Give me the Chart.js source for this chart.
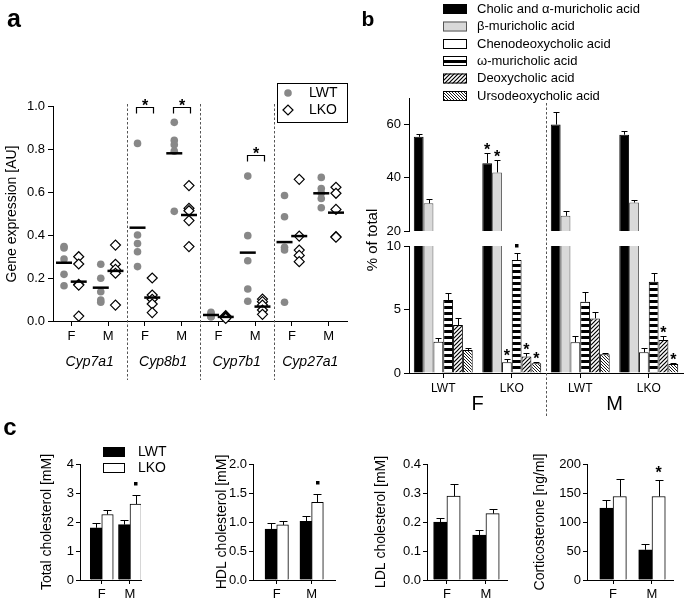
<!DOCTYPE html>
<html><head><meta charset="utf-8">
<script src="https://cdn.jsdelivr.net/npm/chart.js@4.4.1/dist/chart.umd.min.js"></script>
<style>
html,body{margin:0;padding:0;background:#fff;}
body{width:687px;height:605px;position:relative;overflow:hidden;}
canvas{position:absolute;}
</style></head><body>
<script>
// ================= DATA =================
// Panel a: gene expression [AU]
const geneNames = ['Cyp7a1', 'Cyp8b1', 'Cyp7b1', 'Cyp27a1'];
const sexLabels = ['F', 'M', 'F', 'M', 'F', 'M', 'F', 'M'];
const gtLabels = ['LWT', 'LKO'];
const lwtPoints = [
  [0.346, 0.34, 0.288, 0.217, 0.164],
  [0.264, 0.199, 0.136, 0.098, 0.087],
  [0.826, 0.4, 0.36, 0.322, 0.253],
  [0.924, 0.84, 0.82, 0.79, 0.51],
  [0.04, 0.035, 0.025, 0.02, 0.02],
  [0.674, 0.397, 0.28, 0.149, 0.092],
  [0.584, 0.485, 0.343, 0.33, 0.087],
  [0.668, 0.616, 0.595, 0.57, 0.527]
];
const lkoPoints = [
  [0.299, 0.265, 0.17, 0.167, 0.023],
  [0.353, 0.264, 0.24, 0.222, 0.074],
  [0.2, 0.121, 0.101, 0.079, 0.039],
  [0.63, 0.524, 0.513, 0.467, 0.346],
  [0.025, 0.02, 0.018, 0.015, 0.012],
  [0.102, 0.09, 0.074, 0.051, 0.031],
  [0.659, 0.395, 0.33, 0.305, 0.276],
  [0.622, 0.594, 0.519, 0.392, 0.39]
];
const lwtMeans = [0.271, 0.155, 0.434, 0.78, 0.028, 0.318, 0.367, 0.594];
const lkoMeans = [0.183, 0.233, 0.109, 0.493, 0.019, 0.067, 0.395, 0.504];
const sigGroups = [2, 3, 5];
const sigLevels = [0.997, 0.994, 0.772];
const aTicks = [0, 0.2, 0.4, 0.6, 0.8, 1.0];

// Panel b: bile acids, % of total; groups F-LWT, F-LKO, M-LWT, M-LKO
const acidNames = ['Cholic and \u03b1-muricholic acid', '\u03b2-muricholic acid', 'Chenodeoxycholic acid',
  '\u03c9-muricholic acid', 'Deoxycholic acid', 'Ursodeoxycholic acid'];
const groupLabels = ['LWT', 'LKO', 'LWT', 'LKO'];
const sexGroups = ['F', 'M'];
const cholicMean = [55.4, 45.5, 60.0, 56.2];
const cholicErr  = [1.2, 4.0, 4.9, 1.3];
const betaMean   = [30.4, 42.0, 25.7, 30.7];
const betaErr    = [1.6, 4.8, 1.8, 1.0];
const chenoMean  = [2.46, 0.84, 2.42, 1.63];
const chenoErr   = [0.27, 0.26, 0.52, 0.31];
const omegaMean  = [5.75, 8.9, 5.61, 7.19];
const omegaErr   = [0.52, 0.52, 0.79, 0.66];
const deoxyMean  = [3.78, 1.29, 4.3, 2.6];
const deoxyErr   = [0.52, 0.31, 0.53, 0.34];
const ursoMean   = [1.81, 0.76, 1.47, 0.71];
const ursoErr    = [0.13, 0.13, 0.08, 0.05];
const cholicSig = ['', '*', '', ''];
const betaSig   = ['', '*', '', ''];
const chenoSig  = ['', '*', '', ''];
const omegaSig  = ['', '.', '', ''];
const deoxySig  = ['', '*', '', '*'];
const ursoSig   = ['', '*', '', '*'];
const bUpperTicks = [20, 40, 60];
const bLowerTicks = [0, 5, 10];

// Panel c
const cGroups = ['F', 'M'];
const totLWT = [1.8, 1.91],  totLWTErr = [0.16, 0.15];
const totLKO = [2.26, 2.62], totLKOErr = [0.17, 0.3];
const hdlLWT = [0.88, 1.01], hdlLWTErr = [0.1, 0.1];
const hdlLKO = [0.95, 1.34], hdlLKOErr = [0.07, 0.15];
const ldlLWT = [0.2, 0.155], ldlLWTErr = [0.014, 0.016];
const ldlLKO = [0.289, 0.229], ldlLKOErr = [0.043, 0.016];
const corLWT = [124, 52],   corLWTErr = [14.5, 9.5];
const corLKO = [144, 144],  corLKOErr = [30.7, 27.7];
const totSigLKO = ['', '.'];
const hdlSigLKO = ['', '.'];
const ldlSigLKO = ['', ''];
const corSigLKO = ['', '*'];
const totTicks = [0, 1, 2, 3, 4];
const hdlTicks = [0, 0.5, 1.0, 1.5, 2.0];
const ldlTicks = [0, 0.1, 0.2, 0.3, 0.4];
const corTicks = [0, 50, 100, 150, 200];

// ================= SETUP =================
const FONT = '"Liberation Sans", Arial, Helvetica, sans-serif';
Chart.defaults.font.family = FONT;
Chart.defaults.color = '#000';
Chart.defaults.animation = false;
Chart.defaults.events = [];
Chart.defaults.plugins.legend.display = false;
Chart.defaults.plugins.tooltip.enabled = false;

function mkCanvas(r) {
  const c = document.createElement('canvas');
  c.width = r.w; c.height = r.h;
  c.style.left = r.x + 'px'; c.style.top = r.y + 'px';
  c.style.width = r.w + 'px'; c.style.height = r.h + 'px';
  document.body.appendChild(c);
  return c;
}
const YW = 30;
function frame(r, a, xh) {
  return { padding: { left: a.l - r.x - YW, top: a.t - r.y, right: r.x + r.w - a.r, bottom: r.y + r.h - a.b - xh } };
}
function axisY(min, max, ticks, fmt, size, tl = 5, pad = 3) {
  return {
    type: 'linear', position: 'left', min, max, beginAtZero: false,
    afterBuildTicks: s => { s.ticks = ticks.map(v => ({ value: v })); },
    afterFit: s => { s.width = YW; },
    ticks: { callback: v => fmt(v), font: { size }, color: '#000', padding: pad, autoSkip: false },
    grid: { drawOnChartArea: false, drawTicks: true, tickLength: tl, color: '#000', lineWidth: 1 },
    border: { display: true, color: '#000', width: 1 }
  };
}
function axisXlin(min, max, positions, labels, xh, size, tl = 5) {
  return {
    type: 'linear', min, max, offset: false,
    afterBuildTicks: s => { s.ticks = positions.map(v => ({ value: v })); },
    afterFit: s => { s.height = xh; },
    ticks: { callback: (v, i) => labels[i], font: { size }, color: '#000', padding: 3, autoSkip: false, maxRotation: 0 },
    grid: { offset: false, drawOnChartArea: false, drawTicks: true, tickLength: tl, color: '#000', lineWidth: 1 },
    border: { display: true, color: '#000', width: 1 }
  };
}
function text(ctx, s, x, y, font, align = 'center', base = 'middle', rot = 0) {
  ctx.save(); ctx.translate(x, y); ctx.rotate(rot);
  ctx.font = font; ctx.fillStyle = '#000'; ctx.textAlign = align; ctx.textBaseline = base;
  ctx.fillText(s, 0, 0); ctx.restore();
}
function marker(ctx, s, x, yc) {
  if (s === '*') text(ctx, '*', x, yc + 9, 'bold 16px ' + FONT, 'center', 'alphabetic');
  else if (s === '.') { ctx.fillStyle = '#000'; ctx.fillRect(Math.round(x - 1.75), Math.round(yc - 1.75), 3.5, 3.5); }
}
function decor(id, fn) {
  return { id, afterDraw(chart) { const ctx = chart.ctx; ctx.save(); fn(chart, ctx); ctx.restore(); } };
}
// error bars (upward) + significance markers
function errPlugin(cap, gap) {
  return {
    id: 'errbars',
    afterDatasetsDraw(chart) {
      const ctx = chart.ctx, ys = chart.scales.y, area = chart.chartArea;
      ctx.save();
      chart.data.datasets.forEach((ds, i) => {
        if (!ds.errors) return;
        const meta = chart.getDatasetMeta(i);
        meta.data.forEach((el, j) => {
          const d = ds.data[j];
          if (d == null) return;
          const v = ds.values[j], e = ds.errors[j];
          const top = ys.getPixelForValue(v);
          if (top < area.top - 0.5) return;
          const yE = Math.round(ys.getPixelForValue(v + e)) + 0.5;
          const x = Math.round(el.x) + 0.5;
          ctx.strokeStyle = '#000'; ctx.lineWidth = 1;
          ctx.beginPath(); ctx.moveTo(x, top); ctx.lineTo(x, yE);
          ctx.moveTo(x - cap, yE); ctx.lineTo(x + cap, yE); ctx.stroke();
          if (ds.sig && ds.sig[j]) marker(ctx, ds.sig[j], el.x, yE - gap);
        });
      });
      ctx.restore();
    }
  };
}
function makePattern(size, draw) {
  const pc = document.createElement('canvas'); pc.width = size; pc.height = size;
  const g = pc.getContext('2d'); g.fillStyle = '#fff'; g.fillRect(0, 0, size, size);
  g.strokeStyle = '#000'; g.fillStyle = '#000'; draw(g, size);
  return g.createPattern(pc, 'repeat');
}
const stripePat = makePattern(6, (g, s) => g.fillRect(0, 0, s, 3));
const diagPat = makePattern(4, (g, s) => { g.lineWidth = 1.2; g.beginPath();
  g.moveTo(-1, s + 1); g.lineTo(s + 1, -1); g.moveTo(-1, 1); g.lineTo(1, -1); g.moveTo(s - 1, s + 1); g.lineTo(s + 1, s - 1); g.stroke(); });
const backPat = makePattern(3, (g, s) => { g.lineWidth = 0.9; g.beginPath();
  g.moveTo(-1, -1); g.lineTo(s + 1, s + 1); g.moveTo(s - 1, -1); g.lineTo(s + 1, 1); g.moveTo(-1, s - 1); g.lineTo(1, s + 1); g.stroke(); });

// ================= PANEL A =================
const rectA = { x: 0, y: 0, w: 360, h: 400 };
const areaA = { l: 53, t: 106, r: 347, b: 321 };
const OFF = 0.2;
const lwtData = [], lkoData = [];
lwtPoints.forEach((arr, g) => arr.forEach(v => lwtData.push({ x: g + 0.5 - OFF, y: v })));
lkoPoints.forEach((arr, g) => arr.forEach(v => lkoData.push({ x: g + 0.5 + OFF, y: v })));
const lwtMeanData = lwtMeans.map((v, g) => ({ x: g + 0.5 - OFF, y: v }));
const lkoMeanData = lkoMeans.map((v, g) => ({ x: g + 0.5 + OFF, y: v }));

const decorA = decor('decorA', (chart, ctx) => {
  const xs = chart.scales.x, ys = chart.scales.y;
  ctx.strokeStyle = '#555'; ctx.lineWidth = 1; ctx.setLineDash([2.5, 2]);
  for (let g = 1; g < geneNames.length; g++) {
    const x = Math.round(xs.getPixelForValue(g * 2)) + 0.5;
    ctx.beginPath(); ctx.moveTo(x, 104); ctx.lineTo(x, 380); ctx.stroke();
  }
  ctx.setLineDash([]);
  geneNames.forEach((n, g) => text(ctx, n, xs.getPixelForValue(g * 2 + 1), 362, 'italic 14px ' + FONT));
  sigGroups.forEach((grp, k) => {
    const x1 = Math.round(xs.getPixelForValue(grp + 0.5 - 0.23)) + 0.5;
    const x2 = Math.round(xs.getPixelForValue(grp + 0.5 + 0.23)) + 0.5;
    const y = Math.round(ys.getPixelForValue(sigLevels[k])) + 0.5;
    ctx.strokeStyle = '#000'; ctx.lineWidth = 1.2;
    ctx.beginPath(); ctx.moveTo(x1, y + 6); ctx.lineTo(x1, y); ctx.lineTo(x2, y); ctx.lineTo(x2, y + 6); ctx.stroke();
    marker(ctx, '*', (x1 + x2) / 2, y - 6);
  });
  text(ctx, 'Gene expression [AU]', 12, 214, '14px ' + FONT, 'center', 'middle', -Math.PI / 2);
  text(ctx, 'a', 14, 20, 'bold 25px ' + FONT);
  // legend
  ctx.strokeStyle = '#000'; ctx.lineWidth = 1;
  ctx.strokeRect(277.5, 83.5, 70, 39);
  ctx.fillStyle = '#888'; ctx.beginPath(); ctx.arc(288, 93, 3.8, 0, Math.PI * 2); ctx.fill();
  ctx.fillStyle = '#fff'; ctx.strokeStyle = '#000'; ctx.lineWidth = 1.2;
  ctx.beginPath(); ctx.moveTo(283, 110); ctx.lineTo(288, 105); ctx.lineTo(293, 110); ctx.lineTo(288, 115); ctx.closePath(); ctx.fill(); ctx.stroke();
  text(ctx, gtLabels[0], 309, 93, '14px ' + FONT, 'left');
  text(ctx, gtLabels[1], 309, 110, '14px ' + FONT, 'left');
});

new Chart(mkCanvas(rectA), {
  type: 'scatter',
  data: { datasets: [
    { data: lwtMeanData, pointStyle: 'line', pointRadius: 8, borderColor: '#000', borderWidth: 2.5, clip: false },
    { data: lkoMeanData, pointStyle: 'line', pointRadius: 8, borderColor: '#000', borderWidth: 2.5, clip: false },
    { data: lkoData, pointStyle: 'rectRot', pointRadius: 5, backgroundColor: '#fff', borderColor: '#000', borderWidth: 1.2, clip: false },
    { data: lwtData, pointStyle: 'circle', pointRadius: 3.8, backgroundColor: '#888', borderColor: '#888', borderWidth: 0, clip: false }
  ] },
  options: {
    responsive: false, layout: frame(rectA, areaA, 24),
    scales: {
      x: axisXlin(0, 8, sexLabels.map((_, i) => i + 0.5), sexLabels, 24, 13),
      y: axisY(0, 1, aTicks, v => v.toFixed(1), 13)
    }
  },
  plugins: [decorA]
});

// ================= PANEL B =================
const rectB = { x: 360, y: 0, w: 327, h: 420 };
const areaBU = { l: 409, t: 98, r: 683, b: 231 };
const areaBL = { l: 409, t: 246, r: 683, b: 373 };
const acidMeans = [cholicMean, betaMean, chenoMean, omegaMean, deoxyMean, ursoMean];
const acidErrs = [cholicErr, betaErr, chenoErr, omegaErr, deoxyErr, ursoErr];
const acidSigs = [cholicSig, betaSig, chenoSig, omegaSig, deoxySig, ursoSig];
const acidFills = ['#000', '#d9d9d9', '#fff', stripePat, diagPat, backPat];
const acidBorders = ['#000', '#555', '#000', '#000', '#000', '#000'];

function acidDatasets(minShown) {
  return acidMeans.map((m, k) => ({
    data: m.map(v => v >= minShown ? v : null),
    values: m, errors: acidErrs[k], sig: acidSigs[k],
    backgroundColor: acidFills[k], borderColor: acidBorders[k], borderWidth: 1,
    borderSkipped: 'bottom', categoryPercentage: 0.86, barPercentage: 1.0, clip: 0
  }));
}
const catX = (display, xh) => ({
  type: 'category', offset: true, display,
  afterFit: s => { s.height = xh; },
  ticks: { font: { size: 12 }, color: '#000', padding: 3, autoSkip: false, maxRotation: 0 },
  grid: { offset: false, drawOnChartArea: false, drawTicks: true, tickLength: 5, color: '#000' },
  border: { display: true, color: '#000', width: 1 }
});

const decorBU = decor('decorBU', (chart, ctx) => {
  ctx.translate(-rectB.x, -rectB.y);
  text(ctx, 'b', 368, 20, 'bold 21px ' + FONT);
  const rows = [9, 26.5, 44, 61, 78.5, 96];
  acidNames.forEach((n, k) => {
    const y = rows[k];
    ctx.save(); ctx.translate(rectB.x, 0);
    ctx.fillStyle = acidFills[k];
    ctx.fillRect(443 - rectB.x, y - 5, 24, 10);
    ctx.strokeStyle = acidBorders[k]; ctx.lineWidth = 1;
    ctx.strokeRect(443.5 - rectB.x, y - 4.5, 23, 9);
    ctx.restore();
    text(ctx, n, 477, y, '13px ' + FONT, 'left');
  });
});
const decorBL = decor('decorBL', (chart, ctx) => {
  const xs = chart.scales.x;
  const xd = Math.round(xs.getPixelForValue(1.5)) + 0.5;
  ctx.strokeStyle = '#555'; ctx.lineWidth = 1; ctx.setLineDash([2.5, 2]);
  ctx.beginPath(); ctx.moveTo(xd, 103); ctx.lineTo(xd, 416); ctx.stroke(); ctx.setLineDash([]);
  sexGroups.forEach((s, k) => text(ctx, s, xs.getPixelForValue(k * 2 + 0.5), 404, '20px ' + FONT));
  text(ctx, '% of total', 373 - rectB.x, 240, '15px ' + FONT, 'center', 'middle', -Math.PI / 2);
});

new Chart(mkCanvas(rectB), {
  type: 'bar',
  data: { labels: groupLabels, datasets: acidDatasets(bUpperTicks[0]) },
  options: {
    responsive: false, layout: frame(rectB, areaBU, 0),
    scales: { x: catX(false, 0), y: axisY(20, 70, bUpperTicks, v => String(v), 13) }
  },
  plugins: [errPlugin(3, 8), decorBU]
});
new Chart(mkCanvas(rectB), {
  type: 'bar',
  data: { labels: groupLabels, datasets: acidDatasets(-Infinity) },
  options: {
    responsive: false, layout: frame(rectB, areaBL, 20),
    scales: { x: catX(true, 20), y: axisY(0, 10, bLowerTicks, v => String(v), 13) }
  },
  plugins: [errPlugin(3, 8), decorBL]
});

// ================= PANEL C =================
function makeC(cfg) {
  const r = cfg.rect, a = cfg.area;
  const mk = (vals, errs, sig, fill) => ({
    data: vals.map((v, i) => ({ x: i, y: v })), values: vals, errors: errs, sig,
    backgroundColor: fill, borderColor: '#000', borderWidth: 1, borderSkipped: 'bottom',
    barThickness: cfg.bw, clip: 0
  });
  new Chart(mkCanvas(r), {
    type: 'bar',
    data: { datasets: [
      mk(cfg.lwt, cfg.lwtErr, null, '#000'),
      mk(cfg.lko, cfg.lkoErr, cfg.lkoSig, '#fff')
    ] },
    options: {
      responsive: false, layout: frame(r, a, 22),
      scales: {
        x: axisXlin(cfg.xmin, cfg.xmax, cGroups.map((_, i) => i), cGroups, 22, 13, 4),
        y: axisY(cfg.ticks[0], cfg.ticks[cfg.ticks.length - 1], cfg.ticks, cfg.fmt, 13, 4, 2)
      }
    },
    plugins: [errPlugin(4, 12), decor('decorC' + cfg.title, (chart, ctx) => {
      ctx.translate(-r.x, -r.y);
      text(ctx, cfg.title, cfg.titleX, 522, '14px ' + FONT, 'center', 'middle', -Math.PI / 2);
      if (cfg.extra) cfg.extra(ctx);
    })]
  });
}
makeC({ rect: { x: 0, y: 420, w: 175, h: 185 }, area: { l: 80, t: 464, r: 141, b: 580 },
  xmin: -0.77, xmax: 1.39, bw: 11.5, ticks: totTicks, fmt: v => String(v),
  lwt: totLWT, lwtErr: totLWTErr, lko: totLKO, lkoErr: totLKOErr, lkoSig: totSigLKO,
  title: 'Total cholesterol [mM]', titleX: 47,
  extra: ctx => {
    text(ctx, 'c', 10, 428, 'bold 24px ' + FONT);
    ctx.fillStyle = '#000'; ctx.fillRect(103, 447, 22, 10);
    ctx.strokeStyle = '#000'; ctx.lineWidth = 1; ctx.strokeRect(103.5, 463.5, 21, 9);
    text(ctx, gtLabels[0], 138, 452, '14px ' + FONT, 'left');
    text(ctx, gtLabels[1], 138, 468, '14px ' + FONT, 'left');
  } });
makeC({ rect: { x: 175, y: 420, w: 170, h: 185 }, area: { l: 253, t: 464, r: 335, b: 580 },
  xmin: -0.68, xmax: 1.67, bw: 11.7, ticks: hdlTicks, fmt: v => v.toFixed(1),
  lwt: hdlLWT, lwtErr: hdlLWTErr, lko: hdlLKO, lkoErr: hdlLKOErr, lkoSig: hdlSigLKO,
  title: 'HDL cholesterol [mM]', titleX: 222 });
makeC({ rect: { x: 345, y: 420, w: 170, h: 185 }, area: { l: 427, t: 464, r: 507, b: 580 },
  xmin: -0.51, xmax: 1.54, bw: 13.3, ticks: ldlTicks, fmt: v => v.toFixed(1),
  lwt: ldlLWT, lwtErr: ldlLWTErr, lko: ldlLKO, lkoErr: ldlLKOErr, lkoSig: ldlSigLKO,
  title: 'LDL cholesterol [mM]', titleX: 381 });
makeC({ rect: { x: 515, y: 420, w: 172, h: 185 }, area: { l: 587, t: 464, r: 673, b: 580 },
  xmin: -0.67, xmax: 1.54, bw: 13.3, ticks: corTicks, fmt: v => String(v),
  lwt: corLWT, lwtErr: corLWTErr, lko: corLKO, lkoErr: corLKOErr, lkoSig: corSigLKO,
  title: 'Corticosterone [ng/ml]', titleX: 540 });
</script>
</body></html>
